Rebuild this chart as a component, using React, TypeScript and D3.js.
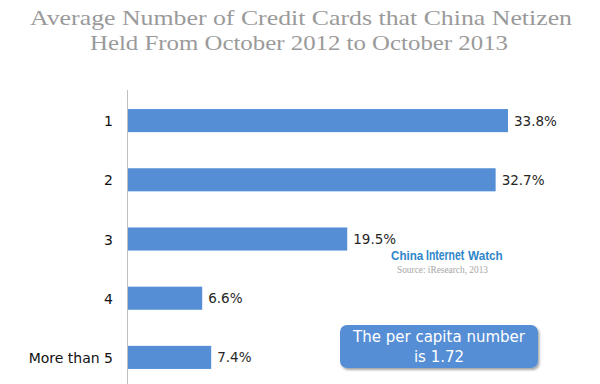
import React from "react";
import * as d3 from "d3";

const categories = ["1", "2", "3", "4", "More than 5"];
const shares = [33.8, 32.7, 19.5, 6.6, 7.4];
const titleLines = [
  "Average Number of Credit Cards that China Netizen",
  "Held From October 2012 to October 2013",
];
const noteLines = ["The per capita number", "is 1.72"];
const brandWords = ["China", "Internet", "Watch"];

export default function App() {
  const W = 600;
  const H = 384;
  const axisX = 127.5;
  const y = d3
    .scaleBand<string>()
    .domain(categories)
    .range([91, 387])
    .paddingInner(0.61)
    .paddingOuter(0.305);
  const x = d3.scaleLinear().domain([0, 33.8]).range([128, 508]);
  const labelFont = "'DejaVu Sans', 'Noto Sans', sans-serif";
  const brandFont = "'Liberation Sans', sans-serif";
  const brandPos = [
    { x: 391, size: 12.5, sx: 0.93 },
    { x: 426, size: 14.5, sx: 0.72 },
    { x: 468, size: 13.5, sx: 0.87 },
  ];

  return (
    <svg
      width={W}
      height={H}
      style={{ position: "absolute", left: 0, top: 0, background: "#fff" }}
    >
      <defs>
        <filter id="sh" x="-10%" y="-20%" width="130%" height="160%">
          <feDropShadow dx="1.5" dy="2" stdDeviation="1.2" floodColor="#000" floodOpacity="0.35" />
        </filter>
      </defs>
      {/* Title */}
      <text
        x={30}
        y={25}
        textLength={542}
        lengthAdjust="spacingAndGlyphs"
        fontFamily="'Liberation Serif', serif"
        fontSize={21}
        fill="#9a9a9a"
      >
        {titleLines[0]}
      </text>
      <text
        x={90}
        y={50}
        textLength={418}
        lengthAdjust="spacingAndGlyphs"
        fontFamily="'Liberation Serif', serif"
        fontSize={21}
        fill="#9a9a9a"
      >
        {titleLines[1]}
      </text>

      {/* Bars */}
      {categories.map((c, i) => (
        <g key={c}>
          <rect
            x={x(0)}
            y={y(c)!}
            width={x(shares[i]) - x(0)}
            height={y.bandwidth()}
            fill="#558ed5"
          />
          <text
            x={x(shares[i]) + 6}
            y={y(c)! + y.bandwidth() / 2 + 5}
            fontFamily={labelFont}
            fontSize={13.5}
            fill="#262626"
          >
            {shares[i].toFixed(1)}%
          </text>
          <text
            x={113}
            y={y(c)! + y.bandwidth() / 2 + 5.5}
            textAnchor="end"
            fontFamily={labelFont}
            fontSize={14}
            fill="#111"
          >
            {c}
          </text>
        </g>
      ))}

      {/* Axis */}
      <line x1={axisX} x2={axisX} y1={90} y2={384} stroke="#bfbfbf" strokeWidth={1} />

      {/* Watermark */}
      {brandWords.map((w, i) => (
        <text
          key={w}
          transform={`translate(${brandPos[i].x},260) scale(${brandPos[i].sx},1)`}
          fontFamily={brandFont}
          fontWeight="bold"
          fontSize={brandPos[i].size}
          fill="#2f86c9"
        >
          {w}
        </text>
      ))}
      <text
        x={397}
        y={272.5}
        textLength={91}
        lengthAdjust="spacingAndGlyphs"
        fontFamily="'Liberation Serif', serif"
        fontSize={9.5}
        fill="#a6a6a6"
      >
        Source: iResearch, 2013
      </text>

      {/* Note box */}
      <rect
        x={340}
        y={325}
        width={198}
        height={43}
        rx={7}
        ry={7}
        fill="#558ed5"
        filter="url(#sh)"
      />
      <text
        x={439}
        y={342}
        textAnchor="middle"
        fontFamily={labelFont}
        fontSize={15}
        fill="#fff"
      >
        {noteLines[0]}
      </text>
      <text
        x={439}
        y={361.5}
        textAnchor="middle"
        fontFamily={labelFont}
        fontSize={15}
        fill="#fff"
      >
        {noteLines[1]}
      </text>
    </svg>
  );
}
